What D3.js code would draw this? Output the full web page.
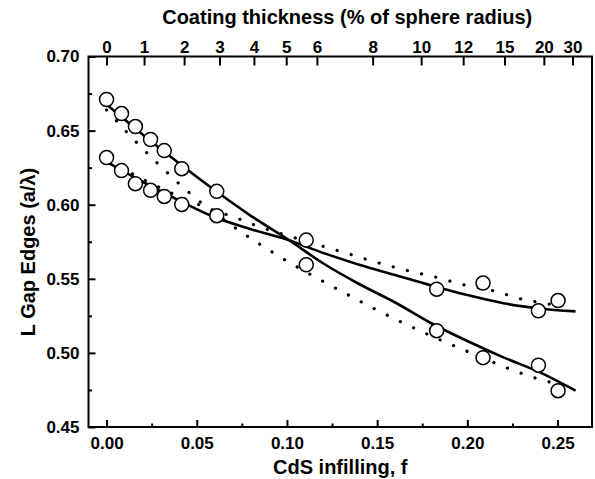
<!DOCTYPE html>
<html>
<head>
<meta charset="utf-8">
<script src="https://cdn.jsdelivr.net/npm/d3@7"></script>
<style>
  body { margin: 0; background: #fff; }
  svg { font-family: "Liberation Sans", Arial, sans-serif; font-weight: bold; }
</style>
</head>
<body>
<div id="chart"></div>
<script>
var width = 595
var height = 479

// measured points (CdS infilling f, gap edge a/lambda)
var pointF = [0, 0.0083, 0.016, 0.0244, 0.032, 0.0417, 0.0611, 0.1107, 0.183, 0.2087, 0.2394, 0.2503]
var upperEdge = [0.671, 0.6615, 0.6527, 0.644, 0.6365, 0.6243, 0.609, 0.5595, 0.515, 0.4968, 0.4917, 0.4745]
var lowerEdge = [0.6318, 0.623, 0.6142, 0.6097, 0.6056, 0.6002, 0.5926, 0.5761, 0.543, 0.5471, 0.5284, 0.5353]

// solid fit curves
var fitF = [0, 0.02, 0.04, 0.06, 0.08, 0.10, 0.12, 0.14, 0.16, 0.18, 0.20, 0.22, 0.24, 0.26]
var fitUpper = [0.6676, 0.6474, 0.6281, 0.6097, 0.5925, 0.577, 0.5605, 0.5465, 0.534, 0.520, 0.508, 0.497, 0.487, 0.4745]
var fitLower = [0.629, 0.6155, 0.603, 0.5915, 0.5835, 0.5765, 0.5675, 0.5595, 0.5525, 0.5455, 0.539, 0.5335, 0.530, 0.528]

// dotted curves
var dotUpperF = [0, 0.0139, 0.0296, 0.0453, 0.072, 0.0963, 0.128, 0.16, 0.2, 0.24, 0.255]
var dotUpper = [0.664, 0.6455, 0.6264, 0.6086, 0.5838, 0.5647, 0.543, 0.5228, 0.501, 0.4822, 0.4775]
var dotLowerF = [0, 0.0204, 0.0398, 0.0556, 0.0704, 0.0852, 0.1019, 0.117, 0.1326, 0.15, 0.1663, 0.1824, 0.1978, 0.2139, 0.2296, 0.2452, 0.252]
var dotLower = [0.630, 0.617, 0.6057, 0.5979, 0.5917, 0.5849, 0.5786, 0.573, 0.5674, 0.561, 0.5557, 0.5511, 0.546, 0.5421, 0.5365, 0.533, 0.5315]

// top axis: coating thickness labels and where they sit on f
var coatingLabels = ["0", "1", "2", "3", "4", "5", "6", "8", "10", "12", "15", "20", "30"]
var coatingF = [0, 0.0208, 0.043, 0.0626, 0.0817, 0.0996, 0.1166, 0.1475, 0.1744, 0.1977, 0.2206, 0.2424, 0.2583]

var xTicks = [0, 0.05, 0.10, 0.15, 0.20, 0.25]
var xMinor = [0.025, 0.075, 0.125, 0.175, 0.225]
var yTicks = [0.45, 0.50, 0.55, 0.60, 0.65, 0.70]
var yMinor = [0.475, 0.525, 0.575, 0.625, 0.675]

var svg = d3.select("#chart")
  .append("svg")
    .attr("width", width)
    .attr("height", height)

var pLeft = 88.5, pRight = 592, pTop = 56.5, pBottom = 427

var x = d3.scaleLinear()
  .domain([-0.01, 0.27])
  .range([pLeft, pLeft + (0.28 / 0.25) * 451])

var y = d3.scaleLinear()
  .domain([0.45, 0.70])
  .range([pBottom, pTop])

function styleAxis(g) {
  g.select(".domain").remove()
  g.selectAll("line").attr("stroke", "#000").attr("stroke-width", 2)
  g.selectAll("text")
    .attr("fill", "#000")
    .style("font-family", "'Liberation Sans', Arial, sans-serif")
    .style("font-weight", "bold")
    .style("font-size", "17px")
}

// bottom axis
svg.append("g")
  .attr("transform", "translate(0," + pBottom + ")")
  .call(d3.axisBottom(x).tickValues(xTicks).tickFormat(d3.format(".2f")).tickSize(-7).tickPadding(10))
  .call(styleAxis)
svg.append("g")
  .attr("transform", "translate(0," + pBottom + ")")
  .call(d3.axisBottom(x).tickValues(xMinor).tickFormat("").tickSize(-3.5))
  .call(styleAxis)

// left axis
svg.append("g")
  .attr("transform", "translate(" + pLeft + ",0)")
  .call(d3.axisLeft(y).tickValues(yTicks).tickFormat(d3.format(".2f")).tickSize(-7).tickPadding(9))
  .call(styleAxis)
svg.append("g")
  .attr("transform", "translate(" + pLeft + ",0)")
  .call(d3.axisLeft(y).tickValues(yMinor).tickFormat("").tickSize(-3.5))
  .call(styleAxis)

// top axis (coating thickness)
svg.append("g")
  .attr("transform", "translate(0," + pTop + ")")
  .call(d3.axisTop(x).tickValues(coatingF).tickFormat(function(d, i) { return coatingLabels[i] }).tickSize(-9).tickPadding(4))
  .call(styleAxis)

// frame
svg.append("rect")
  .attr("x", pLeft)
  .attr("y", pTop)
  .attr("width", pRight - pLeft)
  .attr("height", pBottom - pTop)
  .attr("fill", "none")
  .attr("stroke", "#000")
  .attr("stroke-width", 2)

var line = d3.line()
  .x(function(d) { return x(d[0]) })
  .y(function(d) { return y(d[1]) })
  .curve(d3.curveMonotoneX)

var plot = svg.append("g")

function drawSolid(fs, vs) {
  plot.append("path")
    .datum(fs.map(function(f, i) { return [f, vs[i]] }))
    .attr("d", line)
    .attr("fill", "none")
    .attr("stroke", "#000")
    .attr("stroke-width", 2.6)
}
function drawDotted(fs, vs) {
  plot.append("path")
    .datum(fs.map(function(f, i) { return [f, vs[i]] }))
    .attr("d", line)
    .attr("fill", "none")
    .attr("stroke", "#000")
    .attr("stroke-width", 3.2)
    .attr("stroke-linecap", "round")
    .attr("stroke-dasharray", "0.1,14.5")
}

drawDotted(dotUpperF, dotUpper)
drawDotted(dotLowerF, dotLower)
drawSolid(fitF, fitUpper)
drawSolid(fitF, fitLower)

var pts = pointF.map(function(f, i) { return [f, upperEdge[i]] })
  .concat(pointF.map(function(f, i) { return [f, lowerEdge[i]] }))

plot.selectAll("circle")
  .data(pts)
  .enter()
  .append("circle")
    .attr("cx", function(d) { return x(d[0]) })
    .attr("cy", function(d) { return y(d[1]) })
    .attr("r", 7)
    .attr("fill", "#fff")
    .attr("stroke", "#000")
    .attr("stroke-width", 1.5)

// titles
svg.append("text")
  .attr("x", (pLeft + pRight) / 2 + 7)
  .attr("y", 24)
  .attr("text-anchor", "middle")
  .style("font-size", "20px")
  .text("Coating thickness (% of sphere radius)")

svg.append("text")
  .attr("x", (pLeft + pRight) / 2)
  .attr("y", 474)
  .attr("text-anchor", "middle")
  .style("font-size", "20px")
  .text("CdS infilling, f")

svg.append("text")
  .attr("transform", "translate(35," + 252 + ") rotate(-90)")
  .attr("text-anchor", "middle")
  .style("font-size", "20px")
  .text("L Gap Edges (a/λ)")
</script>
</body>
</html>
